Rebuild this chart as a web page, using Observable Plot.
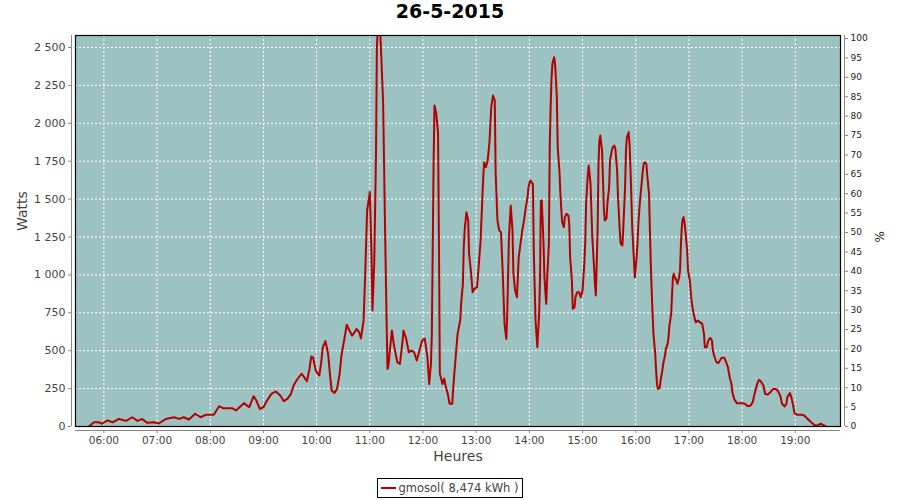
<!DOCTYPE html>
<html>
<head>
<meta charset="utf-8">
<script src="https://cdn.jsdelivr.net/npm/d3@7"></script>
<script src="https://cdn.jsdelivr.net/npm/@observablehq/plot@0.6"></script>
<style>
  html, body { margin: 0; padding: 0; background: #fff; width: 900px; height: 500px; overflow: hidden; }
  #title { height: 30px; line-height: 30px; text-align: center; font: bold 19px "DejaVu Sans", sans-serif; color: #000; }
  #legend { text-align: center; height: 30px; }
  #legend .box { display: inline-flex; align-items: center; margin-top: 8px; height: 18px; border: 1px solid #000; padding: 0 4px 0 3px; font: 11.5px "DejaVu Sans", sans-serif; color: #444; }
  #legend .swatch { display: inline-block; width: 15px; height: 2px; background: #b30000; margin-right: 3px; }
</style>
</head>
<body>
<div id="title">26-5-2015</div>
<div id="chart"></div>
<div id="legend"><span class="box"><span class="swatch"></span>gmosol( 8,474 kWh )</span></div>
<script>
// ---- data ----
const times = ["05:43","05:49","05:54","05:58","06:04","06:10","06:17","06:25","06:32","06:38","06:43","06:49","06:56","07:02","07:10","07:19","07:25","07:30","07:36","07:43","07:49","07:55","08:04","08:10","08:15","08:25","08:29","08:38","08:44","08:49","08:52","08:56","09:00","09:04","09:09","09:14","09:19","09:23","09:27","09:31","09:34","09:38","09:43","09:46","09:49","09:52","09:54","09:56","09:59","10:03","10:05","10:07","10:10","10:13","10:15","10:17","10:20","10:23","10:26","10:28","10:31","10:34","10:37","10:40","10:43","10:45","10:48","10:50","10:53","10:55","10:57","11:00","11:02","11:03","11:05","11:07","11:08","11:10","11:11","11:13","11:15","11:16","11:17","11:19","11:20","11:21","11:23","11:25","11:27","11:31","11:34","11:37","11:38","11:41","11:44","11:47","11:50","11:53","11:56","11:59","12:02","12:05","12:07","12:09","12:10","12:12","12:13","12:15","12:17","12:18","12:19","12:22","12:24","12:25","12:28","12:30","12:33","12:34","12:37","12:39","12:42","12:43","12:45","12:46","12:47","12:49","12:51","12:52","12:54","12:56","12:58","13:01","13:03","13:05","13:07","13:08","13:09","13:11","13:13","13:15","13:17","13:19","13:21","13:22","13:24","13:26","13:28","13:30","13:32","13:34","13:35","13:37","13:39","13:41","13:42","13:44","13:46","13:48","13:50","13:52","13:54","13:56","13:58","13:59","14:01","14:04","14:05","14:06","14:07","14:09","14:11","14:12","14:13","14:14","14:16","14:17","14:19","14:20","14:22","14:23","14:24","14:25","14:26","14:28","14:29","14:31","14:32","14:34","14:35","14:36","14:37","14:39","14:40","14:42","14:44","14:45","14:46","14:48","14:49","14:51","14:52","14:54","14:56","14:58","15:00","15:01","15:02","15:03","15:04","15:06","15:07","15:09","15:10","15:11","15:13","15:14","15:15","15:16","15:17","15:18","15:19","15:20","15:22","15:23","15:24","15:25","15:27","15:28","15:30","15:31","15:33","15:34","15:36","15:37","15:39","15:40","15:42","15:43","15:45","15:46","15:47","15:48","15:49","15:50","15:52","15:53","15:54","15:55","15:56","15:58","15:59","16:00","16:01","16:02","16:03","16:04","16:05","16:07","16:08","16:09","16:10","16:12","16:13","16:15","16:16","16:17","16:18","16:19","16:20","16:22","16:23","16:24","16:25","16:27","16:28","16:30","16:31","16:33","16:34","16:36","16:37","16:38","16:40","16:41","16:42","16:43","16:44","16:46","16:47","16:49","16:50","16:51","16:52","16:53","16:54","16:55","16:56","16:57","16:58","16:59","17:01","17:02","17:03","17:04","17:05","17:07","17:08","17:10","17:12","17:15","17:17","17:18","17:20","17:22","17:24","17:26","17:27","17:29","17:31","17:33","17:35","17:37","17:40","17:42","17:44","17:46","17:48","17:49","17:51","17:54","18:00","18:03","18:06","18:09","18:12","18:14","18:17","18:19","18:21","18:24","18:26","18:29","18:32","18:35","18:38","18:40","18:43","18:45","18:48","18:50","18:51","18:54","18:56","18:58","18:59","19:02","19:08","19:10","19:13","19:15","19:18","19:22","19:25","19:29","19:34"];
const watts = [0,28,28,18,40,28,50,37,61,37,50,24,28,20,50,61,50,61,46,84,61,77,77,134,120,120,106,154,127,200,171,116,127,171,215,231,204,167,182,215,270,310,348,325,299,380,462,455,369,336,413,523,563,479,348,237,220,248,348,468,567,671,633,600,622,644,622,580,699,1042,1425,1546,1117,765,1075,1800,2500,2750,2700,2436,2139,1776,1380,677,380,400,523,633,545,424,413,567,633,580,490,500,490,435,500,567,580,457,281,415,613,1754,2117,2065,1932,1216,350,281,316,281,215,150,150,248,468,611,699,809,941,1183,1293,1413,1359,1139,1029,886,908,919,1073,1227,1512,1644,1743,1710,1755,1875,2106,2183,2150,1667,1359,1293,1282,1007,677,578,732,1249,1458,1293,1009,897,853,1117,1205,1293,1359,1447,1512,1578,1623,1600,1161,919,699,523,743,963,1491,1491,1205,985,809,963,1205,1842,2106,2293,2392,2436,2392,2172,1842,1677,1535,1436,1348,1315,1380,1403,1392,1337,1117,963,776,787,853,886,886,853,897,985,1073,1205,1469,1667,1722,1600,1425,1249,1051,941,864,1073,1293,1733,1886,1919,1820,1644,1447,1359,1370,1469,1578,1755,1820,1842,1853,1831,1689,1512,1293,1205,1194,1315,1447,1578,1820,1908,1941,1864,1710,1535,1315,1095,985,1051,1117,1205,1337,1425,1502,1623,1689,1733,1743,1733,1656,1535,1293,1073,897,743,611,479,369,281,248,255,303,369,413,468,512,545,589,666,743,875,985,1007,985,963,941,985,1029,1205,1315,1370,1381,1348,1293,1227,1161,1029,963,897,831,787,754,699,688,699,690,677,611,523,523,567,585,567,501,457,424,418,435,453,453,424,391,325,281,226,182,154,154,150,136,136,160,215,281,308,299,270,215,211,226,248,248,237,204,150,132,150,193,220,182,127,88,77,77,73,55,44,28,7,7,18,2];

const hourTicks = ["06:00","07:00","08:00","09:00","10:00","11:00","12:00","13:00","14:00","15:00","16:00","17:00","18:00","19:00"];
const wattTicks = [0,250,500,750,1000,1250,1500,1750,2000,2250,2500];
const pctTicks = [0,5,10,15,20,25,30,35,40,45,50,55,60,65,70,75,80,85,90,95,100];
const xStart = "05:28", xEnd = "19:51";
const yMax = 2579;          // top of the left (Watts) axis
const wattsAtFullPct = 2559; // watts matching 100 on the right (%) axis

// ---- helpers ----
const toMin = s => { const [h, m] = s.split(":").map(Number); return h * 60 + m; };
const fmtHM = m => String(Math.floor(m / 60)).padStart(2, "0") + ":" + String(Math.round(m % 60)).padStart(2, "0");
const fmtW = d => String(d).replace(/\B(?=(\d{3})+(?!\d))/g, " ");
const data = times.map((t, i) => ({t: toMin(t), w: watts[i]}));
const x0 = toMin(xStart), x1 = toMin(xEnd);
const pctW = pctTicks.map(p => p / 100 * wattsAtFullPct);

const chart = Plot.plot({
  width: 900,
  height: 440,
  marginLeft: 75,
  marginRight: 60,
  marginTop: 5,
  marginBottom: 44,
  style: {fontFamily: "DejaVu Sans, sans-serif", fontSize: "10.5px", color: "#444", background: "white"},
  x: {domain: [x0, x1], axis: null},
  y: {domain: [0, yMax], axis: null},
  marks: [
    Plot.frame({fill: "#9dc2c2", stroke: null}),
    Plot.gridX(hourTicks.map(toMin), {stroke: "white", strokeOpacity: 1, strokeDasharray: "2,2", strokeWidth: 1}),
    Plot.gridY(wattTicks, {stroke: "white", strokeOpacity: 1, strokeDasharray: "2,2", strokeWidth: 1}),
    Plot.line(data, {x: "t", y: "w", stroke: "#b50000", strokeWidth: 2, clip: true}),
    Plot.frame({stroke: "#000", strokeWidth: 1.2}),
    // axis lines
    Plot.ruleX([x0], {dx: -4, stroke: "#888"}),
    Plot.ruleX([x1], {dx: 4, stroke: "#888"}),
    Plot.ruleY([0], {dy: 4, stroke: "#888"}),
    // left axis
    Plot.axisY({anchor: "left", ticks: wattTicks, tickFormat: fmtW, tickSize: 3, tickPadding: 3, dx: -4, stroke: "#888", fill: "#444", label: null, fontSize: 11}),
    // right axis (%)
    Plot.axisY({anchor: "right", ticks: pctW, tickFormat: d => String(Math.round(d / wattsAtFullPct * 100)), tickSize: 3, tickPadding: 3, dx: 4, stroke: "#888", fill: "#222", label: null, fontSize: 9}),
    // bottom axis
    Plot.axisX({anchor: "bottom", ticks: hourTicks.map(toMin), tickFormat: fmtHM, tickSize: 3, tickPadding: 3, dy: 4, stroke: "#888", fill: "#444", label: null, fontSize: 10.5}),
    // axis titles
    Plot.text(["Watts"], {frameAnchor: "left", dx: -53, rotate: -90, fontSize: 14, fill: "#444"}),
    Plot.text(["Heures"], {frameAnchor: "bottom", dy: 34, fontSize: 14, fill: "#444"}),
    Plot.text(["%"], {frameAnchor: "right", dx: 40, rotate: -90, fontSize: 12, fill: "#222"})
  ]
});
document.getElementById("chart").appendChild(chart);
</script>
</body>
</html>
